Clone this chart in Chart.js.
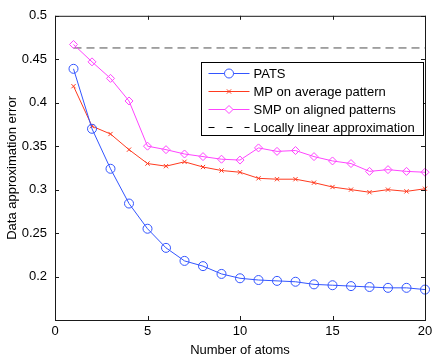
<!DOCTYPE html>
<html>
<head>
<meta charset="utf-8">
<script src="https://cdn.jsdelivr.net/npm/chart.js@4"></script>
<style>
  html, body { margin: 0; padding: 0; background: #fff; }
  #wrap { width: 437px; height: 360px; }
</style>
</head>
<body>
<div id="wrap"><canvas id="errChart" width="437" height="360"></canvas></div>
<script>
// values
const atoms = [1, 2, 3, 4, 5, 6, 7, 8, 9, 10, 11, 12, 13, 14, 15, 16, 17, 18, 19, 20];
const pats = [0.439, 0.370, 0.324, 0.284, 0.255, 0.233, 0.218, 0.212, 0.203, 0.198,
              0.196, 0.195, 0.194, 0.191, 0.190, 0.189, 0.188, 0.187, 0.187, 0.185];
const mpAverage = [0.419, 0.373, 0.364, 0.346, 0.330, 0.327, 0.332, 0.326, 0.322, 0.320,
                   0.313, 0.312, 0.312, 0.308, 0.303, 0.300, 0.297, 0.300, 0.298, 0.301];
const smpAligned = [0.467, 0.447, 0.428, 0.402, 0.350, 0.346, 0.341, 0.338, 0.335, 0.334,
                    0.348, 0.344, 0.345, 0.338, 0.333, 0.330, 0.321, 0.323, 0.321, 0.320];
const locallyLinear = [0.463, 0.463, 0.463, 0.463, 0.463, 0.463, 0.463, 0.463, 0.463, 0.463,
                       0.463, 0.463, 0.463, 0.463, 0.463, 0.463, 0.463, 0.463, 0.463, 0.463];
const xTicks = [0, 5, 10, 15, 20];
const yTicks = [0.15, 0.2, 0.25, 0.3, 0.35, 0.4, 0.45, 0.5];

const FONT = '"Liberation Sans", Arial, Helvetica, sans-serif';

function pts(vals) {
    return atoms.map((a, i) => ({x: a, y: vals[i]}));
}

// matlab style box with inward ticks on all four sides
const boxAxes = {
    id: 'boxAxes',
    afterDraw(chart) {
        const {ctx, chartArea: a, scales} = chart;
        ctx.save();
        ctx.strokeStyle = '#1a1a1a';
        ctx.lineWidth = 1;
        ctx.strokeRect(a.left + 0.5, a.top + 0.5, a.right - a.left, a.bottom - a.top);
        ctx.beginPath();
        xTicks.forEach(v => {
            const px = Math.round(scales.x.getPixelForValue(v)) + 0.5;
            ctx.moveTo(px, a.bottom); ctx.lineTo(px, a.bottom - 4);
            ctx.moveTo(px, a.top); ctx.lineTo(px, a.top + 4);
        });
        yTicks.forEach(v => {
            const py = Math.round(scales.y.getPixelForValue(v)) + 0.5;
            ctx.moveTo(a.left, py); ctx.lineTo(a.left + 4, py);
            ctx.moveTo(a.right, py); ctx.lineTo(a.right - 4, py);
        });
        ctx.stroke();
        ctx.restore();
    }
};

const boxLegend = {
    id: 'boxLegend',
    afterDraw(chart) {
        const {ctx, chartArea: a} = chart;
        const w = 222, h = 73;
        const x0 = Math.round(a.right - w - 2) + 0.5, y0 = Math.round(a.top + 46) + 0.5;
        ctx.save();
        ctx.fillStyle = '#fff';
        ctx.fillRect(x0, y0, w, h);
        ctx.strokeStyle = '#000';
        ctx.lineWidth = 1;
        ctx.strokeRect(x0, y0, w, h);
        ctx.font = '13px ' + FONT;
        ctx.textBaseline = 'middle';
        chart.data.datasets.forEach((ds, i) => {
            const y = Math.round(y0 + 10 + i * 18) + 0.5;
            ctx.strokeStyle = ds.borderDash ? '#000' : ds.borderColor;
            ctx.lineWidth = 1;
            // legend sample dashes are sparser than the plotted line
            ctx.setLineDash(ds.borderDash ? [6, 12] : []);
            ctx.beginPath();
            ctx.moveTo(x0 + 7, y);
            ctx.lineTo(x0 + 48, y);
            ctx.stroke();
            ctx.setLineDash([]);
            if (ds.pointRadius > 0) {
                ctx.fillStyle = '#fff';
                Chart.helpers.drawPoint(ctx, {
                    pointStyle: ds.pointStyle, radius: ds.pointRadius,
                    rotation: 0, borderWidth: 1
                }, x0 + 27.5, y);
            }
            ctx.fillStyle = '#000';
            ctx.fillText(ds.label, x0 + 52, y + 1);
        });
        ctx.restore();
    }
};

new Chart(document.getElementById('errChart'), {
    type: 'line',
    data: {
        datasets: [
            {
                label: 'PATS',
                data: pts(pats),
                borderColor: '#3355ff',
                backgroundColor: 'rgba(0,0,0,0)',
                borderWidth: 1,
                pointStyle: 'circle',
                pointRadius: 4.5,
                pointBorderWidth: 1,
                clip: false
            },
            {
                label: 'MP on average pattern',
                data: pts(mpAverage),
                borderColor: '#ff3a1f',
                backgroundColor: 'rgba(0,0,0,0)',
                borderWidth: 1,
                pointStyle: 'crossRot',
                pointRadius: 3,
                pointBorderWidth: 1,
                clip: false
            },
            {
                label: 'SMP on aligned patterns',
                data: pts(smpAligned),
                borderColor: '#ff44ff',
                backgroundColor: 'rgba(0,0,0,0)',
                borderWidth: 1,
                pointStyle: 'rectRot',
                pointRadius: 4,
                pointBorderWidth: 1,
                clip: false
            },
            {
                label: 'Locally linear approximation',
                data: pts(locallyLinear),
                borderColor: '#4d4d4d',
                borderWidth: 1,
                borderDash: [8, 5],
                pointRadius: 0,
                clip: false
            }
        ]
    },
    options: {
        responsive: false,
        animation: false,
        devicePixelRatio: 1,
        layout: {padding: {top: 8, right: 12, left: 0, bottom: 0}},
        plugins: {
            legend: {display: false},
            tooltip: {enabled: false}
        },
        scales: {
            x: {
                type: 'linear',
                min: 0,
                max: 20,
                afterBuildTicks: s => { s.ticks = xTicks.map(v => ({value: v})); },
                afterFit: s => { s.height = 40; },
                ticks: {
                    color: '#000', padding: 4, maxRotation: 0,
                    font: {family: FONT, size: 13}
                },
                grid: {display: false, drawTicks: false},
                border: {display: false},
                title: {
                    display: true, text: 'Number of atoms', color: '#000',
                    font: {family: FONT, size: 13},
                    padding: {top: 4, bottom: 2}
                }
            },
            y: {
                min: 0.15,
                max: 0.5,
                afterBuildTicks: s => { s.ticks = yTicks.map(v => ({value: v})); },
                afterFit: s => { s.width = 55; },
                ticks: {
                    color: '#000', padding: 8,
                    font: {family: FONT, size: 13},
                    callback: v => Math.abs(v - 0.15) < 1e-6 ? '' : String(Math.round(v * 100) / 100)
                },
                grid: {display: false, drawTicks: false},
                border: {display: false},
                title: {
                    display: true, text: 'Data approximation error', color: '#000',
                    font: {family: FONT, size: 13},
                    padding: {top: 5, bottom: 4}
                }
            }
        }
    },
    plugins: [boxAxes, boxLegend]
});
</script>
</body>
</html>
